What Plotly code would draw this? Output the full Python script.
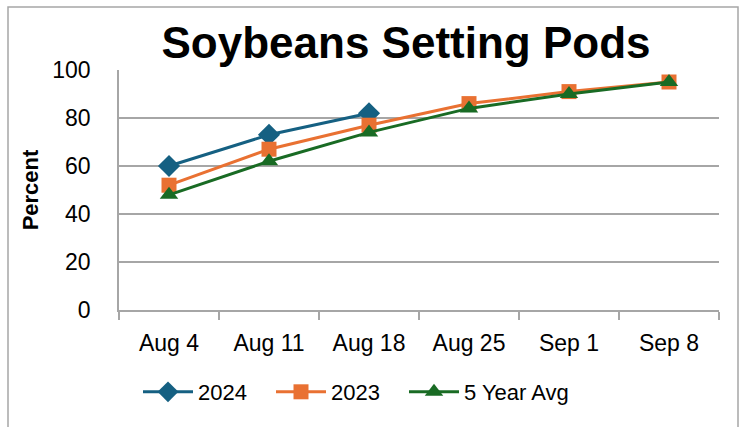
import plotly.graph_objects as go

categories = ["Aug 4", "Aug 11", "Aug 18", "Aug 25", "Sep 1", "Sep 8"]
y2024 = [60, 73, 82, None, None, None]
y2023 = [52, 67, 77, 86, 91, 95]
y5avg = [48, 62, 74, 84, 90, 95]
ytick_vals = [0, 20, 40, 60, 80, 100]

FONT = "Liberation Sans"

fig = go.Figure()
fig.add_trace(go.Scatter(x=categories, y=y2024, name="2024", mode="lines+markers",
                         line=dict(color="#156082", width=3), legend="legend",
                         marker=dict(symbol="diamond", size=17, color="#156082")))
fig.add_trace(go.Scatter(x=categories, y=y2023, name="2023", mode="lines+markers",
                         line=dict(color="#E97132", width=3), legend="legend2",
                         marker=dict(symbol="square", size=15, color="#E97132")))
fig.add_trace(go.Scatter(x=categories, y=y5avg, name="5 Year Avg", mode="lines+markers",
                         line=dict(color="#196B24", width=3), legend="legend3",
                         marker=dict(symbol="triangle-up", size=16, color="#196B24")))

def leg(px):
    return dict(orientation="h", x=(px - 119) / 600, xanchor="left", y=(310 - 392) / 240,
                yanchor="middle", font=dict(family=FONT, size=22), itemwidth=50,
                bgcolor="rgba(0,0,0,0)")

fig.update_layout(
    width=743, height=427,
    margin=dict(l=119, r=24, t=70, b=117, autoexpand=False),
    paper_bgcolor="white", plot_bgcolor="white",
    font=dict(family=FONT, size=22, color="black"),
    title=dict(text="<b>Soybeans Setting Pods</b>", x=(406) / 743, xanchor="center",
               y=1 - 43 / 427, yanchor="middle",
               font=dict(family=FONT, size=44, color="black")),
    showlegend=True,
    legend=leg(138), legend2=leg(271), legend3=leg(404),
    xaxis=dict(type="category", range=[-0.5, 5.5], showgrid=False, showline=True,
               linecolor="#A6A6A6", linewidth=1.5, ticks="outside", tickson="boundaries",
               ticklen=8, tickcolor="#A6A6A6", tickwidth=1.5, tickfont=dict(size=23),
               ticklabelstandoff=12, automargin=False),
    yaxis=dict(range=[0, 100], tickvals=ytick_vals, showgrid=True, gridcolor="#A6A6A6",
               gridwidth=1.5, showline=True, linecolor="#A6A6A6", linewidth=1.5,
               zeroline=False, tickfont=dict(size=23), ticks="", ticklabelstandoff=22,
               automargin=False,
               title=dict(text="<b>Percent</b>", font=dict(size=22), standoff=8)),
)

fig.add_shape(type="rect", xref="paper", yref="paper",
              x0=(8 - 119) / 600, x1=(738 - 119) / 600,
              y0=(310 - 440) / 240, y1=(310 - 7) / 240,
              line=dict(color="#A6A6A6", width=1.5), fillcolor="rgba(0,0,0,0)", layer="below")

fig.write_html("out.html", config={"displayModeBar": False},
               post_script="document.body.style.margin='0';")
